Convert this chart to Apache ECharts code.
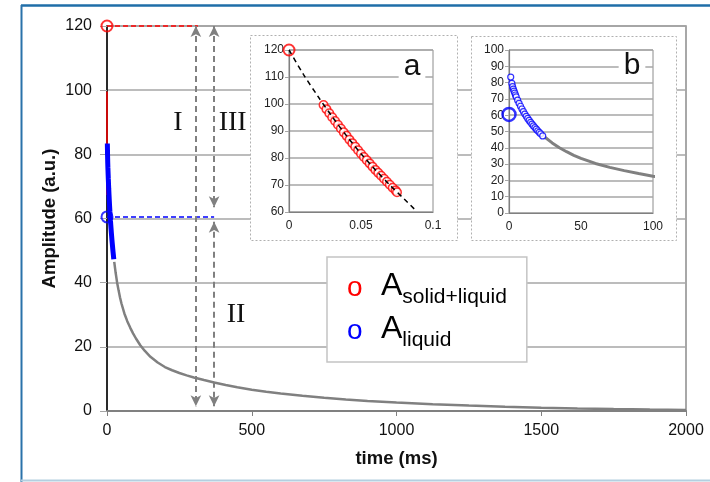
<!DOCTYPE html>
<html>
<head>
<meta charset="utf-8">
<script src="https://cdn.jsdelivr.net/npm/echarts@6/dist/echarts.min.js"></script>
<style>
  html, body { margin: 0; padding: 0; background: #fff; }
  #chart { width: 710px; height: 482px; }
</style>
</head>
<body>
<div id="chart"></div>
<script>
// Total echo amplitude decay (grey), full 0–2000 ms
const decayTime = [25, 30, 35, 40, 45, 50, 60, 70, 80, 90, 100, 115, 130, 150, 175, 200, 225, 250, 275, 300, 335, 370,
                   410, 450, 500, 550, 600, 675, 750, 825, 900, 1000, 1125, 1250, 1375, 1500, 1625, 1750, 1875, 2000];
const decayAmp  = [46.5, 43.0, 40.0, 37.6, 35.4, 33.5, 30.4, 28.0, 26.0, 24.2, 22.6, 20.5, 18.8, 16.9, 15.1, 13.7, 12.7,
                   11.85, 11.1, 10.45, 9.65, 8.9, 8.1, 7.4, 6.6, 6.0, 5.45, 4.75, 4.15, 3.62, 3.15, 2.62, 2.1, 1.68,
                   1.33, 1.04, 0.8, 0.6, 0.45, 0.33];

// Early-time points, solid + liquid signal (ms)
const solidTime = [0.024, 0.026, 0.028, 0.030, 0.032, 0.034, 0.036, 0.038, 0.040, 0.042, 0.044, 0.046, 0.048, 0.050,
                   0.052, 0.054, 0.056, 0.058, 0.060, 0.062, 0.064, 0.066, 0.068, 0.070, 0.072, 0.074, 0.075];
const solidAmp  = [99.6, 98.1, 96.6, 95.1, 93.7, 92.3, 90.9, 89.5, 88.2, 86.8, 85.5, 84.2, 82.9, 81.6,
                   80.4, 79.2, 78.0, 76.8, 75.6, 74.5, 73.4, 72.3, 71.2, 70.1, 69.0, 68.0, 67.3];

// Fitted extrapolation back to t = 0 (inset a)
const fitTime = [0, 0.01, 0.02, 0.03, 0.04, 0.05, 0.06, 0.07, 0.08, 0.088];
const fitAmp  = [120, 111, 102.9, 95.3, 88.2, 81.6, 75.6, 70.0, 64.8, 60.6];

// Liquid signal points (ms)
const liquidTime = [1.2, 2, 2.5, 3, 3.5, 4, 4.5, 5, 6, 7, 8, 9, 10, 11, 12, 13, 14, 15, 16, 17, 18, 19, 20, 21, 22, 23.4];
const liquidAmp  = [83.4, 79.5, 77.5, 76, 74.8, 73.6, 72.4, 71.3, 69.2, 67.3, 65.5, 63.8, 62.2, 60.7, 59.3, 58, 56.8,
                    55.6, 54.5, 53.4, 52.4, 51.4, 50.4, 49.5, 48.6, 47.3];

// Extrapolated amplitudes at t = 0
const aSolidLiquid0 = 120;
const aLiquid0 = 60.5;

// Region labels
const regionLabels = [
  { text: 'I',   t: 245, a: 90 },
  { text: 'III', t: 434, a: 90 },
  { text: 'II',  t: 446, a: 30 }
];
// Arrow positions (time axis) and extents
const arrowOuterT = 307;
const arrowInnerT = 370;
const solidDashEndT = 314;

const seriesNames = ['solid+liquid', 'liquid'];

const pairs = (xs, ys) => xs.map((x, i) => [x, ys[i]]);

const FONT = 'Liberation Sans, Arial, sans-serif';
const GRID_LINE = '#a6a6a6';
const AXIS_GREY = '#808080';

function insetAxes(gridIndex, xMin, xMax, xInt, yMin, yMax, yInt) {
  return {
    x: {
      type: 'value', gridIndex, min: xMin, max: xMax, interval: xInt, z: 5,
      axisLine: { show: true, lineStyle: { color: AXIS_GREY, width: 1.2 } },
      axisTick: { show: false },
      splitLine: { show: false },
      axisLabel: { fontSize: 12, color: '#222', margin: 8, fontFamily: FONT }
    },
    y: {
      type: 'value', gridIndex, min: yMin, max: yMax, interval: yInt, z: 5,
      axisLine: { show: true, lineStyle: { color: AXIS_GREY, width: 1.2 } },
      axisTick: { show: true, length: 4, lineStyle: { color: GRID_LINE } },
      splitLine: { show: true, lineStyle: { color: GRID_LINE, width: 1.5 } },
      axisLabel: { fontSize: 12, color: '#222', margin: 5, fontFamily: FONT }
    }
  };
}
const insetA = insetAxes(1, 0, 0.1, 0.05, 60, 120, 10);
const insetB = insetAxes(2, 0, 100, 50, 0, 100, 10);

const option = {
  animation: false,
  backgroundColor: '#fff',
  textStyle: { fontFamily: FONT },
  grid: [
    { left: 107, top: 26, right: 24, bottom: 71, show: true, borderColor: '#8c8c8c', borderWidth: 1.5 },
    { left: 289, top: 50, width: 144, height: 162, show: true, borderColor: '#8c8c8c', borderWidth: 1, z: 4 },
    { left: 509, top: 50, width: 144, height: 163, show: true, borderColor: '#8c8c8c', borderWidth: 1, z: 4 }
  ],
  xAxis: [
    {
      type: 'value', gridIndex: 0, min: 0, max: 2000, interval: 500,
      axisLine: { show: true, lineStyle: { color: AXIS_GREY, width: 2 } },
      axisTick: { show: true, length: 5, lineStyle: { color: AXIS_GREY } },
      splitLine: { show: false },
      axisLabel: { fontSize: 16, color: '#111', margin: 12, fontFamily: FONT, formatter: v => String(v) },
      name: 'time (ms)', nameLocation: 'middle', nameGap: 38, nameMoveOverlap: false,
      nameTextStyle: { fontSize: 18.5, fontWeight: 'bold', color: '#111', fontFamily: FONT }
    },
    insetA.x, insetB.x
  ],
  yAxis: [
    {
      type: 'value', gridIndex: 0, min: 0, max: 120, interval: 20,
      axisLine: { show: true, lineStyle: { color: '#000', width: 1.5 } },
      axisTick: { show: true, length: 7, lineStyle: { color: GRID_LINE } },
      splitLine: { show: true, lineStyle: { color: GRID_LINE, width: 1.5 } },
      axisLabel: { fontSize: 16, color: '#111', margin: 15, fontFamily: FONT },
      name: 'Amplitude (a.u.)', nameLocation: 'middle', nameGap: 48, nameMoveOverlap: false,
      nameTextStyle: { fontSize: 18.5, fontWeight: 'bold', color: '#111', fontFamily: FONT }
    },
    insetA.y, insetB.y
  ],
  legend: {
    data: seriesNames,
    orient: 'vertical',
    left: 327, top: 257,
    padding: [13, 20, 11, 14],
    itemGap: 6,
    itemWidth: 0, itemHeight: 0,
    selectedMode: false,
    backgroundColor: '#fff',
    borderColor: '#c4c4c4', borderWidth: 1.5,
    z: 10,
    formatter: name => name === seriesNames[0]
      ? '{oR|o}{A|A}{s|solid+liquid}'
      : '{oB|o}{A|A}{s|liquid}',
    textStyle: {
      fontFamily: FONT,
      rich: {
        oR: { color: '#ff0000', fontSize: 28, width: 34, lineHeight: 34, verticalAlign: 'bottom', fontFamily: FONT },
        oB: { color: '#0000ff', fontSize: 28, width: 34, lineHeight: 34, verticalAlign: 'bottom', fontFamily: FONT },
        A:  { color: '#000', fontSize: 32, lineHeight: 34, verticalAlign: 'bottom', fontFamily: FONT },
        s:  { color: '#000', fontSize: 21, height: 10, lineHeight: 13, verticalAlign: 'bottom', fontFamily: FONT }
      }
    }
  },
  graphic: [
    // page frame
    { type: 'line', z: 20, shape: { x1: 21, y1: 5.5, x2: 710, y2: 5.5 }, style: { stroke: '#1f6ea8', lineWidth: 2.5 } },
    { type: 'line', z: 20, shape: { x1: 21.5, y1: 5, x2: 21.5, y2: 482 }, style: { stroke: '#2a72aa', lineWidth: 2 } },
    { type: 'line', z: 20, shape: { x1: 21, y1: 480.5, x2: 710, y2: 480.5 }, style: { stroke: '#b4cfe0', lineWidth: 2 } },
    // inset frames
    { type: 'rect', z: 3, shape: { x: 250.5, y: 35.5, width: 207, height: 205 },
      style: { fill: '#fff', stroke: '#b0b0b0', lineWidth: 1, lineDash: [2, 2] } },
    { type: 'rect', z: 3, shape: { x: 471.5, y: 36.5, width: 205, height: 204 },
      style: { fill: '#fff', stroke: '#b0b0b0', lineWidth: 1, lineDash: [2, 2] } },
    // inset tags
    { type: 'text', z: 8, style: { text: 'a', x: 412, y: 67, font: '30px ' + FONT, fill: '#111',
      align: 'center', verticalAlign: 'middle', backgroundColor: '#fff', padding: [0, 5] } },
    { type: 'text', z: 8, style: { text: 'b', x: 632, y: 66, font: '30px ' + FONT, fill: '#111',
      align: 'center', verticalAlign: 'middle', backgroundColor: '#fff', padding: [0, 5] } }
  ],
  series: [
    // ---- main plot ----
    {
      name: 'decay', type: 'line', xAxisIndex: 0, yAxisIndex: 0, z: 2,
      data: pairs(decayTime, decayAmp),
      showSymbol: false,
      lineStyle: { color: AXIS_GREY, width: 2.5 },
      markLine: {
        silent: true, animation: false,
        symbol: ['none', 'none'],
        label: { show: false },
        data: [
          [{ coord: [0, aSolidLiquid0], lineStyle: { color: '#ff0000', type: [5, 3], width: 1.5 } },
           { coord: [solidDashEndT, aSolidLiquid0] }],
          [{ coord: [0, aLiquid0], lineStyle: { color: '#0000ff', type: [5, 3], width: 1.5 } },
           { coord: [arrowInnerT, aLiquid0] }],
          [{ coord: [arrowOuterT, aSolidLiquid0], symbol: 'arrow', symbolSize: [8, 11],
             lineStyle: { color: AXIS_GREY, type: [6, 4], width: 2 } },
           { coord: [arrowOuterT, 1.5], symbol: 'arrow', symbolSize: [8, 11] }],
          [{ coord: [arrowInnerT, aSolidLiquid0], symbol: 'arrow', symbolSize: [8, 11],
             lineStyle: { color: AXIS_GREY, type: [6, 4], width: 2 } },
           { coord: [arrowInnerT, 63.5], symbol: 'arrow', symbolSize: [8, 11] }],
          [{ coord: [arrowInnerT, 59], symbol: 'arrow', symbolSize: [8, 11],
             lineStyle: { color: AXIS_GREY, type: [6, 4], width: 2 } },
           { coord: [arrowInnerT, 1.5], symbol: 'arrow', symbolSize: [8, 11] }]
        ]
      },
      markPoint: {
        silent: true, animation: false,
        symbol: 'circle', symbolSize: 0,
        data: regionLabels.map(r => ({
          coord: [r.t, r.a], value: r.text,
          label: { show: true, position: 'inside', formatter: r.text, color: '#111',
                   fontFamily: 'Liberation Serif, Times New Roman, serif', fontSize: 28 }
        }))
      }
    },
    {
      name: seriesNames[0], type: 'line', xAxisIndex: 0, yAxisIndex: 0, z: 2,
      data: pairs(solidTime, solidAmp), showSymbol: false,
      lineStyle: { color: '#ff0000', width: 1.5 }, itemStyle: { color: '#ff0000' }
    },
    {
      name: seriesNames[1], type: 'line', xAxisIndex: 0, yAxisIndex: 0, z: 3,
      data: pairs(liquidTime, liquidAmp), showSymbol: false,
      lineStyle: { color: '#0000ff', width: 5 }, itemStyle: { color: '#0000ff' }
    },
    {
      name: seriesNames[0], type: 'scatter', xAxisIndex: 0, yAxisIndex: 0, z: 3,
      data: [[0, aSolidLiquid0]], symbol: 'circle', symbolSize: 11,
      itemStyle: { color: 'rgba(255,255,255,0)', borderColor: '#ff0000', borderWidth: 2 }
    },
    {
      name: seriesNames[1], type: 'scatter', xAxisIndex: 0, yAxisIndex: 0, z: 3,
      data: [[0, aLiquid0]], symbol: 'circle', symbolSize: 11,
      itemStyle: { color: 'rgba(255,255,255,0)', borderColor: '#0000ff', borderWidth: 2 }
    },
    // ---- inset a ----
    {
      name: seriesNames[0], type: 'scatter', xAxisIndex: 1, yAxisIndex: 1, z: 6,
      data: pairs(solidTime, solidAmp), symbol: 'circle', symbolSize: 8.5,
      itemStyle: { color: '#fff', borderColor: '#ff0000', borderWidth: 1.5 }
    },
    {
      name: 'fit', type: 'line', xAxisIndex: 1, yAxisIndex: 1, z: 7,
      data: pairs(fitTime, fitAmp), showSymbol: false, smooth: 0.3,
      lineStyle: { color: '#000', width: 1.5, type: [5, 4] }
    },
    {
      name: seriesNames[0], type: 'scatter', xAxisIndex: 1, yAxisIndex: 1, z: 7,
      data: [[0, aSolidLiquid0]], symbol: 'circle', symbolSize: 11,
      itemStyle: { color: 'rgba(255,255,255,0)', borderColor: '#ff0000', borderWidth: 2 }
    },
    // ---- inset b ----
    {
      name: 'decay', type: 'line', xAxisIndex: 2, yAxisIndex: 2, z: 6,
      data: pairs(decayTime, decayAmp), showSymbol: false, clip: true,
      lineStyle: { color: AXIS_GREY, width: 3 }
    },
    {
      name: seriesNames[1], type: 'scatter', xAxisIndex: 2, yAxisIndex: 2, z: 7,
      data: pairs(liquidTime, liquidAmp), symbol: 'circle', symbolSize: 6,
      itemStyle: { color: '#fff', borderColor: '#0000ff', borderWidth: 1.2 }
    },
    {
      name: seriesNames[1], type: 'scatter', xAxisIndex: 2, yAxisIndex: 2, z: 7,
      data: [[0, aLiquid0]], symbol: 'circle', symbolSize: 13,
      itemStyle: { color: 'rgba(255,255,255,0)', borderColor: '#0000ff', borderWidth: 2.5 }
    }
  ]
};

const chart = echarts.init(document.getElementById('chart'), null, { renderer: 'canvas' });
chart.setOption(option);
</script>
</body>
</html>
